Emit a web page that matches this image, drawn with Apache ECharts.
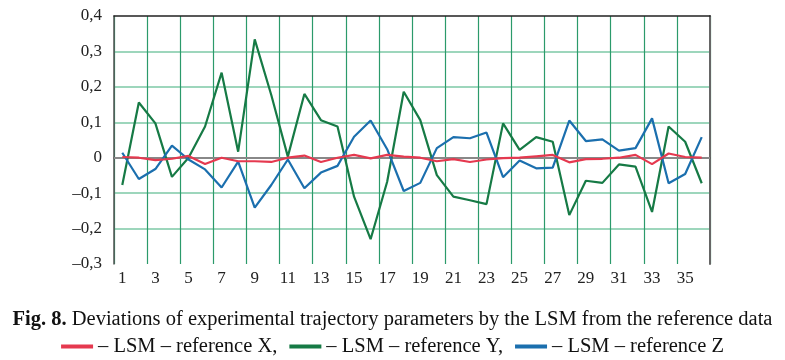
<!DOCTYPE html>
<html><head><meta charset="utf-8">
<script src="https://cdn.jsdelivr.net/npm/echarts@6/dist/echarts.min.js"></script>
<style>html,body{margin:0;padding:0;background:#fff}#c{width:785px;height:360px}</style>
</head><body><div id="c"></div>
<script>
var categories = [];
for (var i = 1; i <= 36; i++) categories.push(String(i));
var refX = [0.002,0,-0.007,-0.003,0.005,-0.018,0,-0.01,-0.01,-0.012,0,0.006,-0.012,0,0.008,-0.002,0.008,0.003,0,-0.01,-0.004,-0.012,-0.005,-0.001,0,0.004,0.008,-0.013,-0.004,-0.003,0,0.008,-0.018,0.012,0.002,0];
var refY = [-0.077,0.156,0.097,-0.054,0.0,0.088,0.24,0.017,0.334,0.177,0.003,0.18,0.106,0.088,-0.11,-0.23,-0.068,0.186,0.106,-0.049,-0.11,-0.12,-0.131,0.097,0.022,0.058,0.045,-0.162,-0.065,-0.071,-0.019,-0.025,-0.153,0.088,0.045,-0.072];
var refZ = [0.014,-0.06,-0.032,0.034,-0.005,-0.033,-0.084,-0.011,-0.141,-0.077,-0.005,-0.086,-0.042,-0.023,0.059,0.105,0.024,-0.094,-0.071,0.027,0.058,0.055,0.071,-0.055,-0.008,-0.03,-0.028,0.105,0.047,0.052,0.02,0.027,0.111,-0.072,-0.046,0.058];
var seriesNames = ['– LSM – reference X,', '– LSM – reference Y,', '– LSM – reference Z'];
var colors = ['#e5394f', '#167a45', '#1b6fae'];
var caption = 'Deviations of experimental trajectory parameters by the LSM from the reference data';

var chart = echarts.init(document.getElementById('c'));
var font = 'Liberation Serif';
function mk(name, data, color, extra) {
  var s = {name: name, type: 'line', data: data, symbol: 'none', smooth: false,
    lineStyle: {color: color, width: 2.2}, itemStyle: {color: color}, z: 3};
  if (extra) for (var k in extra) s[k] = extra[k];
  return s;
}
chart.setOption({
  animation: false,
  grid: {left: 114, right: 75, top: 16, bottom: 96},
  title: {
    text: '{b|Fig. 8.} ' + caption,
    left: 'center', top: 304,
    textStyle: {fontFamily: font, fontSize: 20.5, fontWeight: 'normal', color: '#111',
      rich: {b: {fontFamily: font, fontSize: 20.5, fontWeight: 'bold', color: '#111'}}}
  },
  legend: {
    bottom: -2, left: 'center', itemWidth: 32, itemHeight: 4, itemGap: 12, icon: 'rect',
    textStyle: {fontFamily: font, fontSize: 20.5, color: '#111'},
    data: seriesNames
  },
  xAxis: [{
    type: 'category', data: categories, boundaryGap: true,
    axisLine: {lineStyle: {color: '#555', width: 1.5}},
    axisTick: {show: false},
    axisLabel: {interval: 1, fontFamily: font, fontSize: 17, color: '#222', margin: 6},
    splitLine: {show: true, interval: 1, lineStyle: {color: '#2b9a6b', width: 1.2}}
  }, {
    type: 'category', data: categories, position: 'top', boundaryGap: true,
    axisLine: {show: true, onZero: false, lineStyle: {color: '#222', width: 1.5}},
    axisTick: {show: false}, axisLabel: {show: false}, splitLine: {show: false}
  }],
  yAxis: [{
    type: 'value', min: -0.3, max: 0.4, interval: 0.1,
    axisLine: {show: true, lineStyle: {color: '#555', width: 1.5}},
    axisTick: {show: false},
    axisLabel: {fontFamily: font, fontSize: 17, color: '#222', margin: 12,
      formatter: function (v) {
        var r = Math.round(v * 10) / 10;
        if (r === 0) return '0';
        var s = Math.abs(r).toFixed(1).replace('.', ',');
        return (r < 0 ? '–' : '') + s;
      }},
    splitLine: {show: true, showMaxLine: false, showMinLine: false, lineStyle: {color: '#7cc9a6', width: 1.6}}
  }, {
    type: 'value', min: -0.3, max: 0.4, interval: 0.1, position: 'right',
    axisLine: {show: true, onZero: false, lineStyle: {color: '#666', width: 2}},
    axisTick: {show: false}, axisLabel: {show: false}, splitLine: {show: false}
  }],
  series: [
    mk(seriesNames[0], refX, colors[0], {z: 5, markLine: {silent: true, symbol: 'none', label: {show: false},
      lineStyle: {color: '#888', type: 'solid', width: 2}, data: [{yAxis: 0}], z: 2}}),
    mk(seriesNames[1], refY, colors[1]),
    mk(seriesNames[2], refZ, colors[2])
  ]
});
</script></body></html>
